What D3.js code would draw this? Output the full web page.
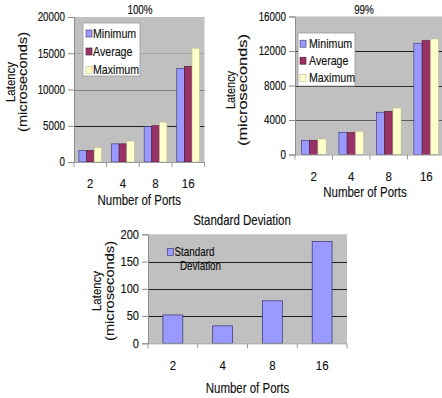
<!DOCTYPE html>
<html>
<head>
<meta charset="utf-8">
<script src="https://cdn.jsdelivr.net/npm/d3@7"></script>
<style>
  html, body { margin: 0; padding: 0; background: #fff; }
  svg { display: block; font-family: "Liberation Sans", Arial, Helvetica, sans-serif; }
</style>
</head>
<body>
<svg id="chart" width="442" height="398"></svg>
<script>
// Port counts on the x axis of every panel
const ports = ["2", "4", "8", "16"];
const seriesNames = ["Minimum", "Average", "Maximum"];

// Latency at 100% load (microseconds)
const fullMin = [1600, 2500, 4900, 12900];
const fullAvg = [1600, 2500, 5000, 13200];
const fullMax = [2000, 2900, 5500, 15700];

// Latency at 99% load (microseconds)
const p99Min = [1650, 2550, 4900, 12900];
const p99Avg = [1650, 2550, 5000, 13200];
const p99Max = [1800, 2700, 5400, 13400];

// Standard deviation of latency (microseconds)
const stdDev = [52, 32, 78, 187];

// Y tick values for each panel
const ticksFull = [0, 5000, 10000, 15000, 20000];
const ticks99 = [0, 4000, 8000, 12000, 16000];
const ticksStd = [0, 50, 100, 150, 200];

const colors = { Minimum: "#9999ff", Average: "#993366", Maximum: "#ffffcc" };
const strokes = { Minimum: "#33336b", Average: "#4a1830", Maximum: "#b8b890" };

const svg = d3.select("#chart");

// Text helper: horizontally condensed labels
function label(parent, x, y, str, opts = {}) {
  const size = opts.size || 12, sx = opts.sx || 0.82;
  const g = parent.append("g")
    .attr("transform", `translate(${x},${y}) scale(${sx},1)` + (opts.rotate ? ` rotate(${opts.rotate})` : ""));
  const t = g.append("text")
    .attr("x", 0).attr("y", 0)
    .attr("text-anchor", opts.anchor || "middle")
    .attr("dominant-baseline", "central")
    .attr("font-size", size)
    .attr("fill", opts.fill || "#111")
    .attr("stroke", "#111").attr("stroke-width", 0.15)
    .text(str);
  if (opts.length) t.attr("textLength", opts.length).attr("lengthAdjust", "spacingAndGlyphs");
  return t;
}

function panel(cfg) {
  const g = svg.append("g");
  const y = d3.scaleLinear().domain([0, cfg.ticks[cfg.ticks.length - 1]]).range([cfg.y0, cfg.y1]);
  const x0 = d3.scaleBand().domain(ports).range([cfg.left, cfg.right]).padding(0);

  // plot area
  g.append("rect")
    .attr("x", cfg.left).attr("y", y.range()[1])
    .attr("width", cfg.right - cfg.left).attr("height", cfg.y0 - cfg.y1)
    .attr("fill", "#c0c0c0");

  // gridlines
  cfg.ticks.slice(1, -1).forEach((t, i) => {
    g.append("line")
      .attr("x1", cfg.left).attr("x2", cfg.right)
      .attr("y1", Math.round(y(t)) + 0.5).attr("y2", Math.round(y(t)) + 0.5)
      .attr("stroke", cfg.gridColors[i]).attr("stroke-width", 1.2);
  });

  // bars
  if (cfg.series) {
    const x1 = d3.scaleBand().domain(seriesNames)
      .range([x0.bandwidth() * cfg.groupPad, x0.bandwidth() * (1 - cfg.groupPad)]);
    cfg.series.forEach((vals, si) => {
      const name = seriesNames[si];
      g.selectAll(null).data(vals).enter().append("rect")
        .attr("x", (d, i) => x0(ports[i]) + x1(name))
        .attr("y", d => y(d))
        .attr("width", x1.bandwidth())
        .attr("height", d => y(0) - y(d))
        .attr("fill", colors[name])
        .attr("stroke", strokes[name]).attr("stroke-width", 0.6);
    });
  } else {
    const xb = d3.scaleBand().domain(ports).range([cfg.left, cfg.right])
      .paddingInner(0.6).paddingOuter(0.3);
    g.selectAll(null).data(cfg.values).enter().append("rect")
      .attr("x", (d, i) => xb(ports[i]))
      .attr("y", d => y(d))
      .attr("width", xb.bandwidth())
      .attr("height", d => y(0) - y(d))
      .attr("fill", colors.Minimum)
      .attr("stroke", strokes.Minimum).attr("stroke-width", 0.7);
  }

  // y axis
  const ya = g.append("g").attr("transform", `translate(${cfg.left},0)`)
    .call(d3.axisLeft(y).tickValues(cfg.ticks).tickSize(6).tickFormat(""));
  ya.select(".domain").attr("stroke", "#8c8c8c");
  ya.selectAll(".tick line").attr("stroke", "#8c8c8c");
  cfg.ticks.forEach(t => label(g, cfg.left - 9, y(t), String(t), { size: cfg.ySize, anchor: "end" }));

  // x axis with tick marks between categories
  const xa = g.append("g").attr("transform", `translate(0,${cfg.y0})`);
  xa.append("line").attr("x1", cfg.left).attr("x2", cfg.right)
    .attr("y1", 0.5).attr("y2", 0.5).attr("stroke", "#9a9a9a");
  const bounds = ports.map(p => x0(p)).concat([cfg.right]);
  xa.selectAll(null).data(bounds).enter().append("line")
    .attr("x1", d => d).attr("x2", d => d)
    .attr("y1", 0).attr("y2", 5).attr("stroke", "#9a9a9a");
  ports.forEach(p => label(g, x0(p) + x0.bandwidth() / 2, cfg.xLabelY, p, { size: 13.5, sx: 0.85 }));

  label(g, (cfg.left + cfg.right) / 2 + (cfg.xTitleDx || 0), cfg.xTitleY, "Number of Ports", { size: 14 });
  label(g, cfg.titleX, cfg.titleY, cfg.title, { size: cfg.titleSize });

  // y title, two lines
  label(g, cfg.yt1x, cfg.ytY, "Latency", { size: 14, rotate: -90, length: cfg.yt1len, sx: 0.85 });
  label(g, cfg.yt2x, cfg.ytY, "(microseconds)", { size: 14, rotate: -90, length: cfg.yt2len, sx: 0.85 });

  // legend
  const L = cfg.legend;
  if (L.box) {
    g.append("rect").attr("x", L.x).attr("y", L.y).attr("width", L.w).attr("height", L.h)
      .attr("fill", "#fff").attr("stroke", "#9a9a9a").attr("stroke-width", 0.8);
  }
  L.items.forEach((it, i) => {
    const cy = L.rows[i];
    if (it.swatch) {
      g.append("rect").attr("x", L.sx).attr("y", cy - 3.5).attr("width", 6).attr("height", 7)
        .attr("fill", colors[it.swatch]).attr("stroke", strokes[it.swatch]).attr("stroke-width", 0.6);
    }
    label(g, it.tx, cy, it.text, { size: L.size || 13, anchor: "start" });
  });
}

panel({
  title: "100%", titleX: 140, titleY: 10, titleSize: 12,
  left: 74, right: 204.5, y0: 162, y1: 17,
  ticks: ticksFull, gridColors: ["#1e1e1e", "#7e7e7e", "#a6a6a6"],
  series: [fullMin, fullAvg, fullMax], groupPad: 0.15,
  ySize: 12, xLabelY: 184, xTitleY: 200,
  yt1x: 11, yt2x: 23, ytY: 82, yt1len: 40, yt2len: 100,
  legend: { box: true, x: 83, y: 23, w: 57, h: 53, sx: 86, rows: [33.5, 51.5, 70],
    items: seriesNames.map(n => ({ swatch: n, text: n, tx: 93 })) }
});

panel({
  title: "99%", titleX: 364, titleY: 10, titleSize: 12,
  left: 295, right: 445, y0: 154.5, y1: 16.5,
  ticks: ticks99, gridColors: ["#5a5a5a", "#2e2e2e", "#1e1e1e"],
  series: [p99Min, p99Avg, p99Max], groupPad: 0.17,
  ySize: 12, xLabelY: 177, xTitleY: 192, xTitleDx: -5,
  yt1x: 231, yt2x: 243, ytY: 90, yt1len: 38, yt2len: 112,
  legend: { box: true, x: 298, y: 33, w: 57, h: 53, sx: 300, rows: [43.7, 60.7, 78],
    items: seriesNames.map(n => ({ swatch: n, text: n, tx: 309 })) }
});

panel({
  title: "Standard Deviation", titleX: 242, titleY: 220, titleSize: 14,
  left: 148, right: 347, y0: 343.3, y1: 234.3,
  ticks: ticksStd, gridColors: ["#1e1e1e", "#1e1e1e", "#1e1e1e"],
  values: stdDev,
  ySize: 13.5, xLabelY: 366, xTitleY: 388,
  yt1x: 97, yt2x: 110, ytY: 291, yt1len: 40, yt2len: 100,
  legend: { box: false, sx: 167.5, rows: [251.8, 265.3], size: 12,
    items: [{ swatch: "Minimum", text: "Standard", tx: 174.5 }, { text: "Deviation", tx: 180 }] }
});
</script>
</body>
</html>
